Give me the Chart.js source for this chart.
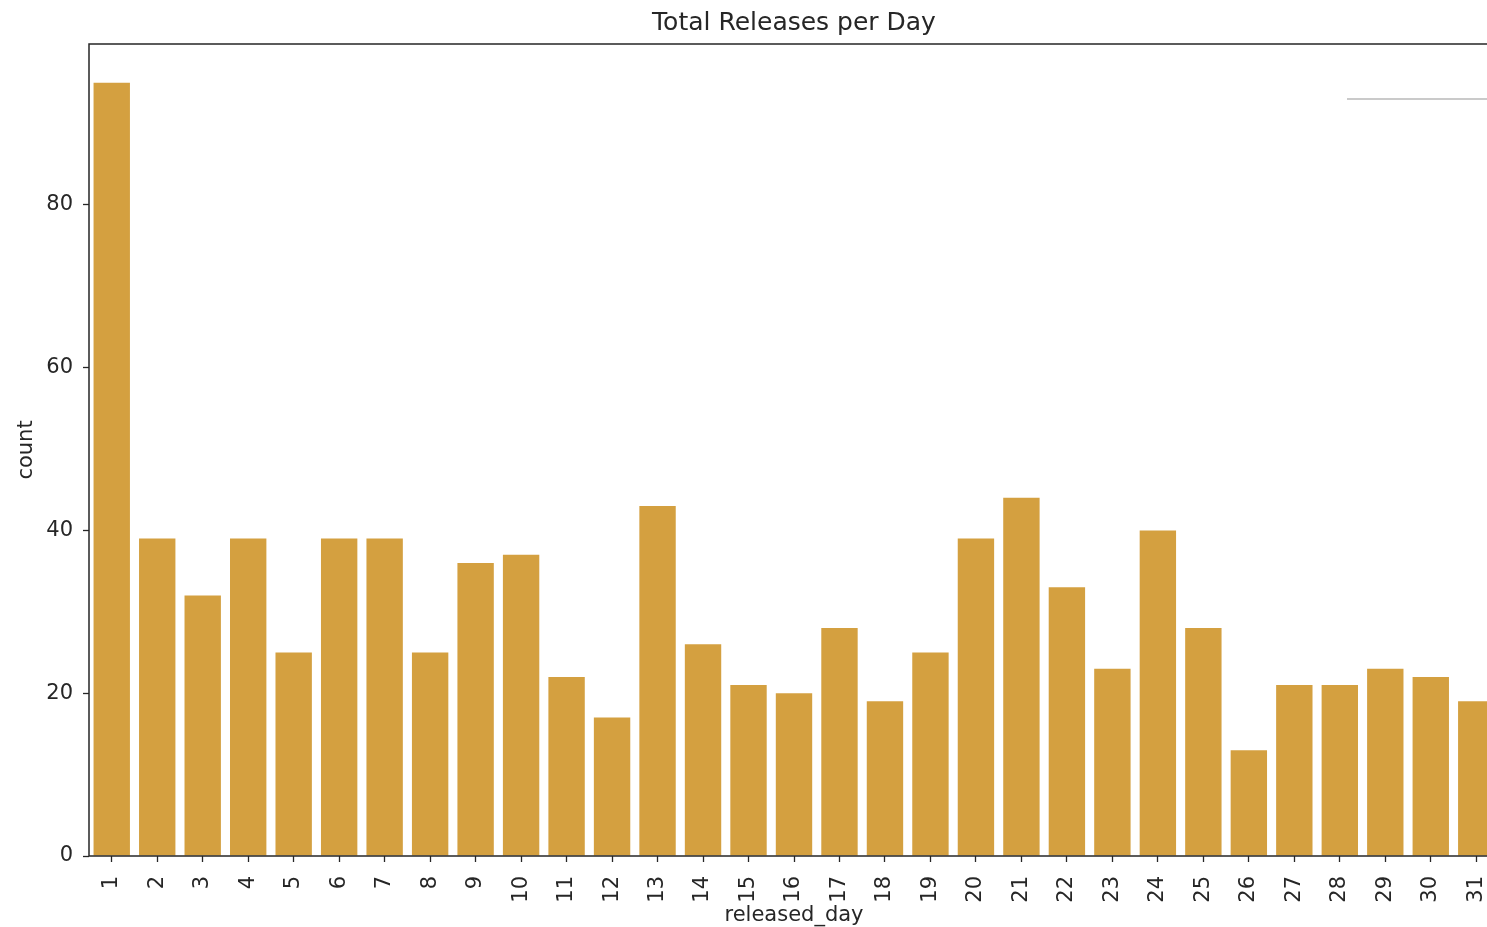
<!DOCTYPE html>
<html>
<head>
<meta charset="utf-8">
<title>Total Releases per Day</title>
<script src="https://cdn.jsdelivr.net/npm/chart.js@4.4.1/dist/chart.umd.min.js"></script>
<style>
  html, body { margin: 0; padding: 0; background: #fff; overflow: hidden; }
  #wrap { width: 1588px; height: 927px; }
</style>
</head>
<body>
<div id="wrap"><canvas id="releasesChart" width="1588" height="927"></canvas></div>
<script>
// ====== data ======
const days = ['1','2','3','4','5','6','7','8','9','10','11','12','13','14','15','16',
              '17','18','19','20','21','22','23','24','25','26','27','28','29','30','31'];
const counts = [95, 39, 32, 39, 25, 39, 39, 25, 36, 37, 22, 17, 43, 26, 21, 20,
                28, 19, 25, 39, 44, 33, 23, 40, 28, 13, 21, 21, 23, 22, 19];
const yTicks = [0, 20, 40, 60, 80];
const yMax = 99.75;
// ==================

const TEXT = '#262626';
const FONT = { family: 'DejaVu Sans', size: 21 };

// axes frame (all four sides) + the top edge of an empty legend box
const frameLines = {
    id: 'frameLines',
    afterDraw(chart) {
        const { ctx, chartArea: a } = chart;
        ctx.save();
        ctx.strokeStyle = TEXT;
        ctx.lineWidth = 1.5;
        ctx.strokeRect(a.left, a.top, a.right - a.left, a.bottom - a.top);
        ctx.strokeStyle = '#b8b8b8';
        ctx.lineWidth = 1.6;
        ctx.beginPath();
        ctx.moveTo(a.right - 152, a.top + 55);
        ctx.lineTo(a.right, a.top + 55);
        ctx.stroke();
        ctx.restore();
    }
};

const tickGrid = {
    display: true,
    drawOnChartArea: false,
    drawTicks: true,
    offset: false,
    tickLength: 6,
    tickColor: TEXT,
    tickWidth: 1.3
};

new Chart(document.getElementById('releasesChart'), {
    type: 'bar',
    data: {
        labels: days,
        datasets: [{
            data: counts,
            backgroundColor: '#d4a040',
            borderWidth: 0,
            barPercentage: 0.8,
            categoryPercentage: 1.0
        }]
    },
    options: {
        responsive: false,
        animation: false,
        events: [],
        devicePixelRatio: 1,
        layout: { padding: 0 },
        scales: {
            x: {
                offset: true,
                afterFit: s => { s.height = 71; },
                grid: tickGrid,
                border: { display: false },
                ticks: {
                    autoSkip: false,
                    minRotation: 90,
                    maxRotation: 90,
                    padding: 14,
                    color: TEXT,
                    font: FONT
                },
                title: {
                    display: true,
                    text: 'released_day',
                    color: TEXT,
                    font: { family: 'DejaVu Sans', size: 21, lineHeight: 1.1 },
                    padding: { top: 0, bottom: 0 }
                }
            },
            y: {
                min: 0,
                max: yMax,
                afterBuildTicks: s => { s.ticks = yTicks.map(v => ({ value: v })); },
                afterFit: s => { s.width = 89; },
                grid: tickGrid,
                border: { display: false },
                ticks: { padding: 10, color: TEXT, font: FONT },
                title: {
                    display: true,
                    text: 'count',
                    color: TEXT,
                    font: FONT,
                    padding: { top: 14, bottom: 0 }
                }
            },
            // empty right-hand space so the title centres over the plot
            yRight: {
                position: 'right',
                display: true,
                afterFit: s => { s.width = 89; },
                grid: { display: false },
                border: { display: false },
                ticks: { display: false }
            }
        },
        plugins: {
            legend: { display: false },
            tooltip: { enabled: false },
            title: {
                display: true,
                text: 'Total Releases per Day',
                color: TEXT,
                font: { family: 'DejaVu Sans', size: 25, weight: 'normal' },
                padding: { top: 8, bottom: 6 }
            }
        }
    },
    plugins: [frameLines]
});
</script>
</body>
</html>
